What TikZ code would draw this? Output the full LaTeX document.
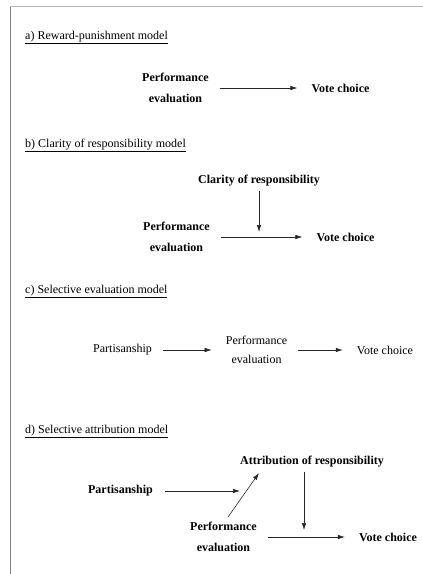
\documentclass[tikz,border=0pt]{standalone}
\usepackage{fontspec}
\setmainfont{Liberation Serif}
\usetikzlibrary{arrows.meta}
\begin{document}
\begin{tikzpicture}[x=1pt, y=-1pt, inner sep=0pt,
  main/.style = {font=\bfseries\fontsize{12}{21}\selectfont, align=center},
  plain/.style = {font=\fontsize{12}{19}\selectfont, align=center},
  head/.style = {anchor=base west, font=\fontsize{12}{14}\selectfont},
  tip/.style = {-{Latex[length=7pt,width=4.5pt]}, line width=0.6pt, draw=black!85},
  link/.style = {tip, shorten <=11pt, shorten >=14pt}]
\useasboundingbox (0,0) rectangle (423,574);
\draw[gray!55, line width=1.5pt] (10,6.5) -- (423,6.5);
\draw[gray, line width=1.2pt] (10.5,6.5) -- (10.5,574);

\node[head] (a) at (25,39) {\underline{a) Reward-punishment model}};
\node[main] (a1) at (175.5,88) {Performance\\evaluation};
\node[main] (a2) at (340.5,88) {Vote choice};
\draw[link] (a1) -- (a2);

\node[head] (b) at (25,147) {\underline{b) Clarity of responsibility model}};
\node[main] (b1) at (259,181) {Clarity of responsibility};
\node[main] (b2) at (176.5,237) {Performance\\evaluation};
\node[main] (b3) at (345.5,237) {Vote choice};
\coordinate (b4) at (259,232);
\draw[link] (b2) -- (b3);
\draw[tip, shorten <=4.5pt] (b1) -- (b4);

\node[head] (c) at (25,293) {\underline{c) Selective evaluation model}};
\node[plain] (c1) at (122.5,350) {Partisanship};
\node[plain] (c2) at (256.5,350) {Performance\\evaluation};
\node[plain] (c3) at (385,350) {Vote choice};
\draw[link] (c1) -- (c2);
\draw[link] (c2) -- (c3);

\node[head] (d) at (25,433) {\underline{d) Selective attribution model}};
\node[main] (d1) at (312,462) {Attribution of responsibility};
\node[main] (d2) at (120.5,491) {Partisanship};
\node[main] (d3) at (223.5,537) {Performance\\evaluation};
\node[main] (d4) at (388,537) {Vote choice};
\coordinate (d5) at (240,491);
\coordinate (d6) at (259,473);
\coordinate (d7) at (304,530);
\draw[tip, shorten <=12pt] (d2) -- (d5);
\draw[tip, shorten <=6pt] ([xshift=1pt]d3.north) -- (d6);
\draw[tip, shorten <=4pt] (d1.south -| d7) -- (d7);
\draw[link] (d3) -- (d4);
\end{tikzpicture}
\end{document}
